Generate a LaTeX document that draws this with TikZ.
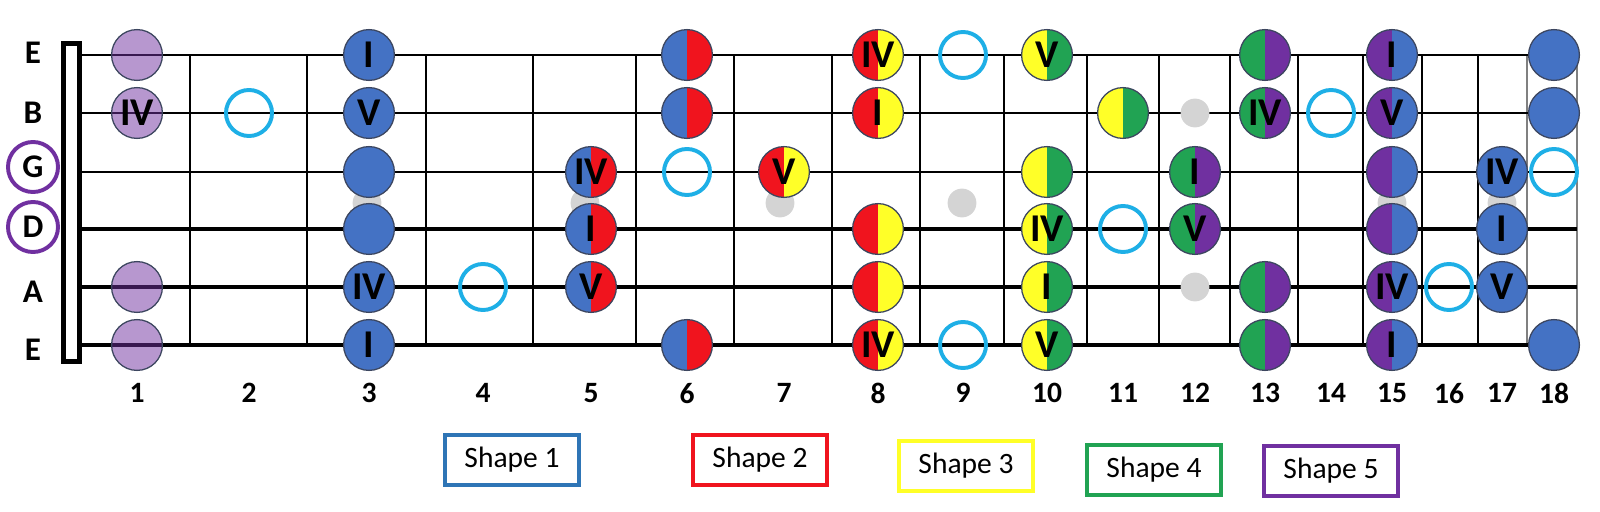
\documentclass[tikz,border=0pt]{standalone}
\usepackage{fontspec}
\setmainfont{Carlito}
\definecolor{shblue}{RGB}{68,114,196}
\definecolor{shred}{RGB}{240,20,30}
\definecolor{shyellow}{RGB}{255,255,40}
\definecolor{shgreen}{RGB}{33,163,83}
\definecolor{shpurple}{RGB}{112,48,160}
\definecolor{boxblue}{RGB}{46,117,182}
\definecolor{ringblue}{RGB}{30,175,230}
\definecolor{inlay}{RGB}{212,212,212}
\definecolor{rim}{RGB}{60,70,95}

\tikzset{
  fretnote/.style={circle,draw=rim,line width=0.9pt,minimum size=1.27cm,inner sep=0pt,
    font=\fontsize{28}{28}\selectfont\bfseries,text depth=0pt},
  solo/.style={fretnote,fill=#1},
  duo/.style 2 args={fretnote,path picture={
    \fill[#1] (path picture bounding box.south west) rectangle (path picture bounding box.north);
    \fill[#2] (path picture bounding box.south) rectangle (path picture bounding box.north east);}},
  pale/.style={fretnote,fill=shpurple,fill opacity=0.5,text opacity=1},
  ring/.style={circle,draw=ringblue,line width=2.8pt,minimum size=1.15cm,inner sep=0pt},
  inlaydot/.style={circle,fill=inlay,minimum size=0.72cm,inner sep=0pt},
  strlabel/.style={font=\fontsize{23.5}{24}\selectfont\bfseries,inner sep=0pt,text depth=0pt},
  strring/.style={strlabel,circle,draw=shpurple,line width=2.8pt,minimum size=1.25cm},
  fretnum/.style={font=\fontsize{21}{21}\selectfont\bfseries,inner sep=0pt,text depth=0pt},
  legend/.style={draw=#1,line width=2.5pt,minimum width=3.34cm,minimum height=1.26cm,
    inner sep=0pt,font=\fontsize{21}{21}\selectfont}
}

\begin{document}
\begin{tikzpicture}[x=0.025cm,y=-0.025cm]
\useasboundingbox (0,0) rectangle (1600,512);

% frets
\foreach \fx in {190,307,426,533,636,734,832,920,1004,1087,1159,1230,1298,1363,1422,1478}
  \draw[line width=1.4pt] (\fx,55) -- (\fx,345);
\draw[line width=1pt,gray] (1527,55) -- (1527,345);
\draw[line width=1pt,gray] (1577,55) -- (1577,345);

% strings
\draw[line width=1.4pt] (82,55) -- (1577,55);
\draw[line width=1.6pt] (82,113) -- (1577,113);
\draw[line width=2.1pt] (82,172) -- (1577,172);
\draw[line width=2.4pt] (82,229) -- (1577,229);
\draw[line width=2.8pt] (82,287) -- (1577,287);
\draw[line width=3.5pt] (82,345) -- (1577,345);

% nut
\draw[line width=3.5pt,fill=white] (63.5,43.5) rectangle (79.5,361.5);

% string names
\node[strlabel] (se1) at (33,53) {E};
\node[strlabel] (sb) at (33,113) {B};
\node[strring] (sg) at (33,167) {G};
\node[strring] (sd) at (33,227) {D};
\node[strlabel] (sa) at (33,292) {A};
\node[strlabel] (se6) at (33,350) {E};

% inlays
\node[inlaydot] (i3) at (367,203) {};
\node[inlaydot] (i5) at (585,203) {};
\node[inlaydot] (i7) at (780,203) {};
\node[inlaydot] (i9) at (962,203) {};
\node[inlaydot] (i12a) at (1195,113) {};
\node[inlaydot] (i12b) at (1195,287) {};
\node[inlaydot] (i15) at (1392,203) {};
\node[inlaydot] (i17) at (1502,203) {};

% fret 1
\node[pale] (n1-1) at (137,55) {};
\node[pale] (n1-2) at (137,113) {IV};
\node[pale] (n1-5) at (137,287) {};
\node[pale] (n1-6) at (137,345) {};
% fret 2
\node[ring] (r2-2) at (249,113) {};
% fret 3
\node[solo=shblue] (n3-1) at (369,55) {I};
\node[solo=shblue] (n3-2) at (369,113) {V};
\node[solo=shblue] (n3-3) at (369,172) {};
\node[solo=shblue] (n3-4) at (369,229) {};
\node[solo=shblue] (n3-5) at (369,287) {IV};
\node[solo=shblue] (n3-6) at (369,345) {I};
% fret 4
\node[ring] (r4-5) at (483,287) {};
% fret 5
\node[duo={shblue}{shred}] (n5-3) at (591,172) {IV};
\node[duo={shblue}{shred}] (n5-4) at (591,229) {I};
\node[duo={shblue}{shred}] (n5-5) at (591,287) {V};
% fret 6
\node[duo={shblue}{shred}] (n6-1) at (687,55) {};
\node[duo={shblue}{shred}] (n6-2) at (687,113) {};
\node[ring] (r6-3) at (687,172) {};
\node[duo={shblue}{shred}] (n6-6) at (687,345) {};
% fret 7
\node[duo={shred}{shyellow}] (n7-3) at (784,172) {V};
% fret 8
\node[duo={shred}{shyellow}] (n8-1) at (878,55) {IV};
\node[duo={shred}{shyellow}] (n8-2) at (878,113) {I};
\node[duo={shred}{shyellow}] (n8-4) at (878,229) {};
\node[duo={shred}{shyellow}] (n8-5) at (878,287) {};
\node[duo={shred}{shyellow}] (n8-6) at (878,345) {IV};
% fret 9
\node[ring] (r9-1) at (963,55) {};
\node[ring] (r9-6) at (963,345) {};
% fret 10
\node[duo={shyellow}{shgreen}] (n10-1) at (1047,55) {V};
\node[duo={shyellow}{shgreen}] (n10-3) at (1047,172) {};
\node[duo={shyellow}{shgreen}] (n10-4) at (1047,229) {IV};
\node[duo={shyellow}{shgreen}] (n10-5) at (1047,287) {I};
\node[duo={shyellow}{shgreen}] (n10-6) at (1047,345) {V};
% fret 11
\node[duo={shyellow}{shgreen}] (n11-2) at (1123,113) {};
\node[ring] (r11-4) at (1123,229) {};
% fret 12
\node[duo={shgreen}{shpurple}] (n12-3) at (1195,172) {I};
\node[duo={shgreen}{shpurple}] (n12-4) at (1195,229) {V};
% fret 13
\node[duo={shgreen}{shpurple}] (n13-1) at (1265,55) {};
\node[duo={shgreen}{shpurple}] (n13-2) at (1265,113) {IV};
\node[duo={shgreen}{shpurple}] (n13-5) at (1265,287) {};
\node[duo={shgreen}{shpurple}] (n13-6) at (1265,345) {};
% fret 14
\node[ring] (r14-2) at (1331,113) {};
% fret 15
\node[duo={shpurple}{shblue}] (n15-1) at (1392,55) {I};
\node[duo={shpurple}{shblue}] (n15-2) at (1392,113) {V};
\node[duo={shpurple}{shblue}] (n15-3) at (1392,172) {};
\node[duo={shpurple}{shblue}] (n15-4) at (1392,229) {};
\node[duo={shpurple}{shblue}] (n15-5) at (1392,287) {IV};
\node[duo={shpurple}{shblue}] (n15-6) at (1392,345) {I};
% fret 16
\node[ring] (r16-5) at (1449,287) {};
% fret 17
\node[solo=shblue] (n17-3) at (1502,172) {IV};
\node[solo=shblue] (n17-4) at (1502,229) {I};
\node[solo=shblue] (n17-5) at (1502,287) {V};
% fret 18
\node[solo=shblue] (n18-1) at (1554,55) {};
\node[solo=shblue] (n18-2) at (1554,113) {};
\node[ring] (r18-3) at (1554,172) {};
\node[solo=shblue] (n18-6) at (1554,345) {};

% fret numbers
\node[fretnum] (k1) at (137,393) {1};
\node[fretnum] (k2) at (249,393) {2};
\node[fretnum] (k3) at (369,393) {3};
\node[fretnum] (k4) at (483,393) {4};
\node[fretnum] (k5) at (591,393) {5};
\node[fretnum] (k6) at (687,393) {6};
\node[fretnum] (k7) at (784,393) {7};
\node[fretnum] (k8) at (878,393) {8};
\node[fretnum] (k9) at (963,393) {9};
\node[fretnum] (k10) at (1047,393) {10};
\node[fretnum] (k11) at (1123,393) {11};
\node[fretnum] (k12) at (1195,393) {12};
\node[fretnum] (k13) at (1265,393) {13};
\node[fretnum] (k14) at (1331,393) {14};
\node[fretnum] (k15) at (1392,393) {15};
\node[fretnum] (k16) at (1449,393) {16};
\node[fretnum] (k17) at (1502,393) {17};
\node[fretnum] (k18) at (1554,393) {18};

% legend
\node[legend=boxblue] (shape1) at (512,460) {Shape 1};
\node[legend=shred] (shape2) at (760,460) {Shape 2};
\node[legend=shyellow] (shape3) at (966,466) {Shape 3};
\node[legend=shgreen] (shape4) at (1154,470) {Shape 4};
\node[legend=shpurple] (shape5) at (1331,471) {Shape 5};
\end{tikzpicture}
\end{document}
